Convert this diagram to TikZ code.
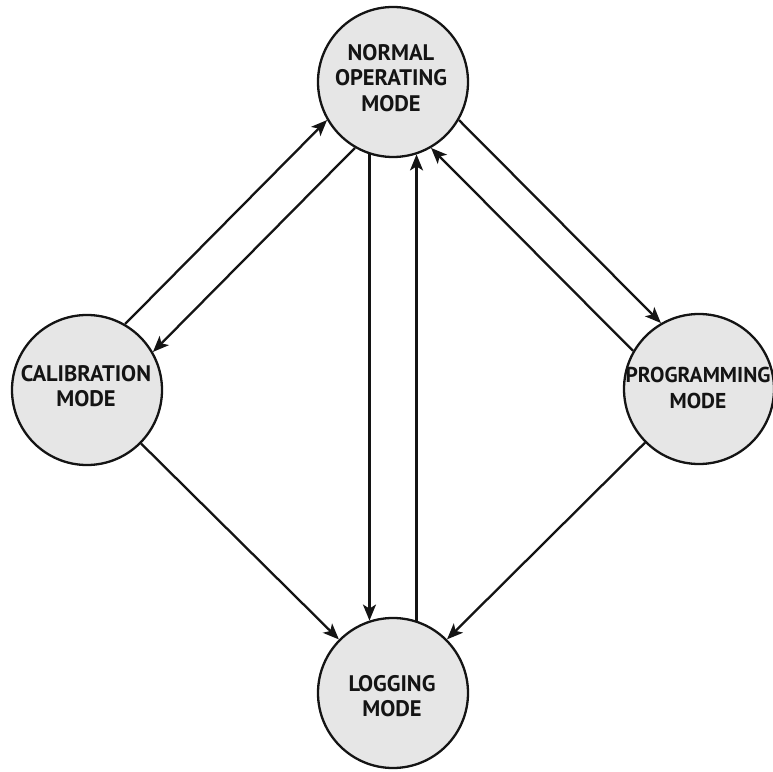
\documentclass[tikz,border=0pt]{standalone}
\usepackage{fontspec}
\setsansfont{PT Sans}
\usetikzlibrary{arrows.meta}
\definecolor{modefill}{HTML}{E6E6E6}
\definecolor{ink}{HTML}{141414}
\tikzset{
  mode/.style={circle, draw=ink, line width=2.3pt, fill=modefill,
    minimum size=150pt, inner sep=0pt},
  modetext/.style={font=\sffamily\bfseries\fontsize{22.5}{25.5}\selectfont,
    align=center, text=ink, inner sep=0pt},
  trans/.style={draw=ink, line width=2.3pt,
    -{Stealth[length=16pt,width=13pt,inset=4pt]}}
}
\begin{document}
\begin{tikzpicture}[x=1pt,y=1pt]
  \useasboundingbox (0,0) rectangle (773,771);

  % the four operating modes
  \node[mode] (norm) at (393,689) {};
  \node[mode] (cal)  at (87,381)  {};
  \node[mode] (prog) at (699,382) {};
  \node[mode] (log)  at (393,78)  {};

  \node[modetext] (normtext) at (391,693) {NORMAL\\OPERATING\\MODE};
  \node[modetext] (caltext)  at (86,385)  {CALIBRATION\\MODE};
  \node[modetext, font=\sffamily\bfseries\fontsize{21.5}{25.5}\selectfont]
    (progtext) at (698,383) {PROGRAMMING\\MODE};
  \node[modetext] (logtext)  at (392,75)  {LOGGING\\MODE};

  % transitions between modes
  \draw[trans] (cal.60)   -- (norm.210);
  \draw[trans] (norm.240) -- (cal.30);
  \draw[trans] (norm.-30) -- (prog.120);
  \draw[trans] (prog.150) -- (norm.-60);
  \draw[trans] (norm.252) -- (log.108);
  \draw[trans] (log.72)   -- (norm.288);
  \draw[trans] (cal)  -- (log);
  \draw[trans] (prog) -- (log);
\end{tikzpicture}
\end{document}
